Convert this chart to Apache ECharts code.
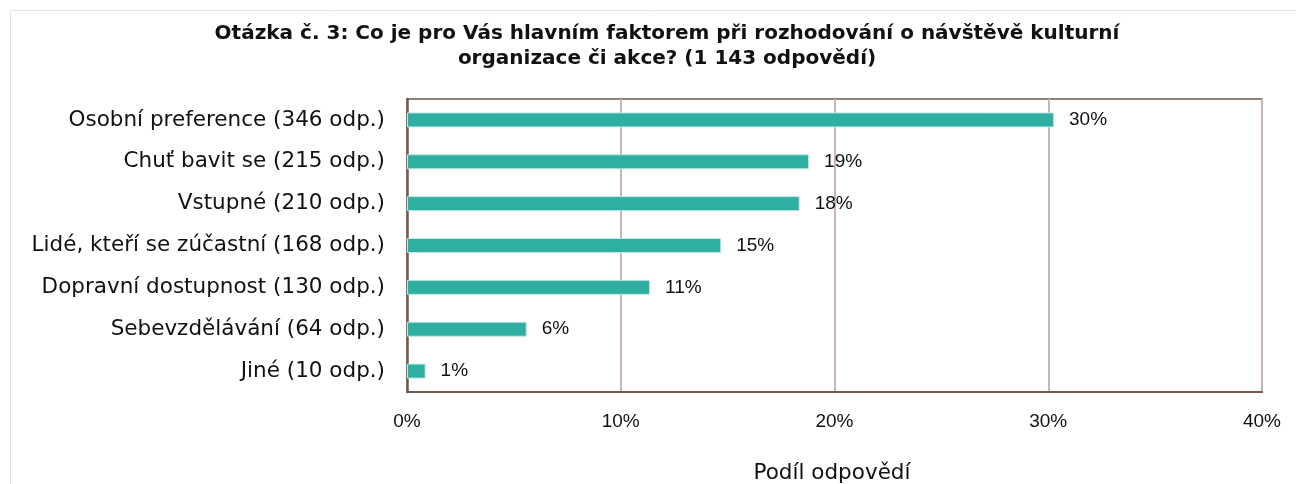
<!DOCTYPE html>
<html>
<head>
<meta charset="utf-8">
<script src="https://cdn.jsdelivr.net/npm/echarts@6/dist/echarts.min.js"></script>
<style>
  html, body { margin: 0; padding: 0; background: #fff; }
  #main { width: 1296px; height: 484px; }
</style>
</head>
<body>
<div id="main"></div>
<script>
// otázka č. 3 - data
var categories = [
  'Osobní preference (346 odp.)',
  'Chuť bavit se (215 odp.)',
  'Vstupné (210 odp.)',
  'Lidé, kteří se zúčastní (168 odp.)',
  'Dopravní dostupnost (130 odp.)',
  'Sebevzdělávání (64 odp.)',
  'Jiné (10 odp.)'
];
var shares = [30.27, 18.81, 18.37, 14.70, 11.37, 5.60, 0.87];   // podíl v %
var shareLabels = ['30%', '19%', '18%', '15%', '11%', '6%', '1%'];
var xTicks = [0, 10, 20, 30, 40];

var FONT = 'DejaVu Sans';
var NUM_FONT = 'Liberation Sans';

var chart = echarts.init(document.getElementById('main'));

var option = {
  animation: false,
  textStyle: { fontFamily: FONT },
  title: {
    text: 'Otázka č. 3: Co je pro Vás hlavním faktorem při rozhodování o návštěvě kulturní\norganizace či akce? (1 143 odpovědí)',
    left: 662,
    top: 16,
    textAlign: 'center',
    textStyle: { fontFamily: FONT, fontSize: 20, fontWeight: 'bold', color: '#111', lineHeight: 25, align: 'center' }
  },
  graphic: [{
    type: 'rect',
    shape: { x: 10.5, y: 10.5, width: 1400, height: 600 },
    style: { fill: 'none', stroke: '#e4e4e4', lineWidth: 1 },
    silent: true
  }],
  grid: {
    left: 407, right: 34, top: 99, bottom: 92,
    outerBoundsMode: 'none',
    containLabel: false,
    show: true, borderColor: '#6e5a4e', borderWidth: 1.5, backgroundColor: 'transparent'
  },
  xAxis: {
    type: 'value',
    min: xTicks[0],
    max: xTicks[xTicks.length - 1],
    interval: 10,
    name: 'Podíl odpovědí',
    nameLocation: 'middle',
    nameGap: 70,
    nameTextStyle: { fontFamily: FONT, fontSize: 21.5, color: '#111', padding: [0, 5, 0, 0] },
    axisLine: { show: true, lineStyle: { color: '#6e5a4e', width: 2 } },
    axisTick: { show: false },
    axisLabel: { margin: 20, fontFamily: NUM_FONT, fontSize: 19, color: '#111', formatter: '{value}%' },
    splitLine: { show: true, lineStyle: { color: '#c6b8b0', width: 2 } }
  },
  yAxis: {
    type: 'category',
    data: categories,
    inverse: true,
    axisLine: { show: true, lineStyle: { color: '#6e5a4e', width: 2.5 } },
    axisTick: { show: false },
    axisLabel: { margin: 22, fontSize: 21.5, color: '#111' },
    splitLine: { show: false }
  },
  series: [{
    type: 'bar',
    data: shares,
    barWidth: 15,
    itemStyle: { color: '#2eafa2', borderColor: '#bfe7e1', borderWidth: 1 },
    label: {
      show: true,
      position: 'right',
      distance: 15,
      fontFamily: NUM_FONT,
      fontSize: 19,
      color: '#111',
      formatter: function (p) { return shareLabels[p.dataIndex]; }
    }
  }]
};

chart.setOption(option);
</script>
</body>
</html>
